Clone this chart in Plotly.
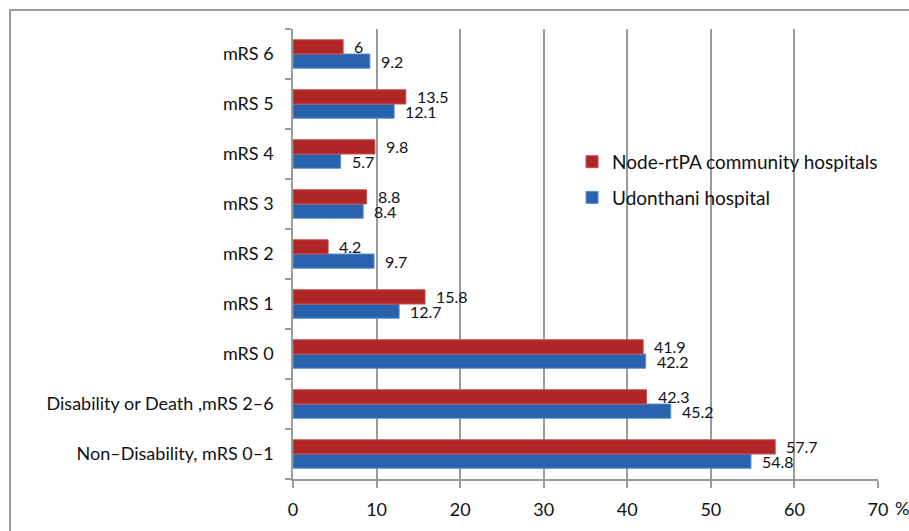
import plotly.graph_objects as go

# Categories listed bottom-to-top (Plotly draws the first category at the bottom)
categories = [
    "Non–Disability, mRS 0–1",
    "Disability or Death ,mRS 2–6",
    "mRS 0",
    "mRS 1",
    "mRS 2",
    "mRS 3",
    "mRS 4",
    "mRS 5",
    "mRS 6",
]
udonthani = [54.8, 45.2, 42.2, 12.7, 9.7, 8.4, 5.7, 12.1, 9.2]
node_rtpa = [57.7, 42.3, 41.9, 15.8, 4.2, 8.8, 9.8, 13.5, 6]
x_ticks = [0, 10, 20, 30, 40, 50, 60, 70]

RED = "#B02626"
BLUE = "#2861AC"
GRID = "#9a9a9a"
FONT = "Lato"

fig = go.Figure()
fig.add_trace(go.Bar(
    y=categories, x=udonthani, orientation="h", name="Udonthani hospital",
    marker=dict(color=BLUE, line=dict(color="#5f8fd0", width=1)),
    legendgroup="b", legendrank=2,
))
fig.add_trace(go.Bar(
    y=categories, x=node_rtpa, orientation="h", name="Node-rtPA community hospitals",
    marker=dict(color=RED, line=dict(color="#c85050", width=1)),
    legendgroup="a", legendrank=1,
))

# value labels to the right of each bar
annotations = []
for cat, v in zip(categories, node_rtpa):
    annotations.append(dict(x=v, y=cat, text=f"{v:g}", showarrow=False,
                            xanchor="left", xshift=9, yshift=8,
                            font=dict(family=FONT, size=16, color="#111")))
for cat, v in zip(categories, udonthani):
    annotations.append(dict(x=v, y=cat, text=f"{v:g}", showarrow=False,
                            xanchor="left", xshift=9, yshift=-7,
                            font=dict(family=FONT, size=16, color="#111")))
# percent sign after the last tick label
annotations.append(dict(x=70, y=0, xref="x", yref="paper", text="%", showarrow=False,
                        xanchor="left", yanchor="middle", xshift=15, yshift=-29,
                        font=dict(family=FONT, size=18, color="#111")))

fig.update_layout(
    width=909, height=531,
    margin=dict(l=293, r=31, t=29, b=52),
    paper_bgcolor="white", plot_bgcolor="white",
    barmode="group", bargap=0.43, bargroupgap=0,
    font=dict(family=FONT, size=18, color="#111"),
    showlegend=True,
    legend=dict(x=0.477, y=0.747, xanchor="left", yanchor="top",
                traceorder="grouped", tracegroupgap=8,
                font=dict(family=FONT, size=19, color="#111"),
                bgcolor="rgba(0,0,0,0)", itemwidth=30),
    annotations=annotations,
    shapes=[dict(type="rect", xref="paper", yref="paper",
                 x0=(10 - 293) / 585, x1=1.2, y0=-0.3, y1=(479 - 10) / 450,
                 line=dict(color="#9a9a9a", width=2), layer="below")],
)
fig.update_xaxes(
    range=[0, 70], tickvals=x_ticks, ticktext=[str(t) for t in x_ticks],
    showgrid=True, gridcolor=GRID, gridwidth=1.5,
    showline=True, linecolor=GRID, linewidth=1.5,
    ticks="outside", ticklen=7, tickcolor=GRID, tickwidth=1.5,
    ticklabelstandoff=7, zeroline=False,
    tickfont=dict(family=FONT, size=18, color="#111"),
)
fig.update_yaxes(
    categoryorder="array", categoryarray=categories,
    showgrid=False, showline=True, linecolor=GRID, linewidth=1.5,
    ticks="outside", ticklen=6, tickcolor=GRID, tickwidth=1.5,
    tickson="boundaries", ticklabelstandoff=14,
    tickfont=dict(family=FONT, size=18, color="#111"),
)

fig.write_html("out.html")
